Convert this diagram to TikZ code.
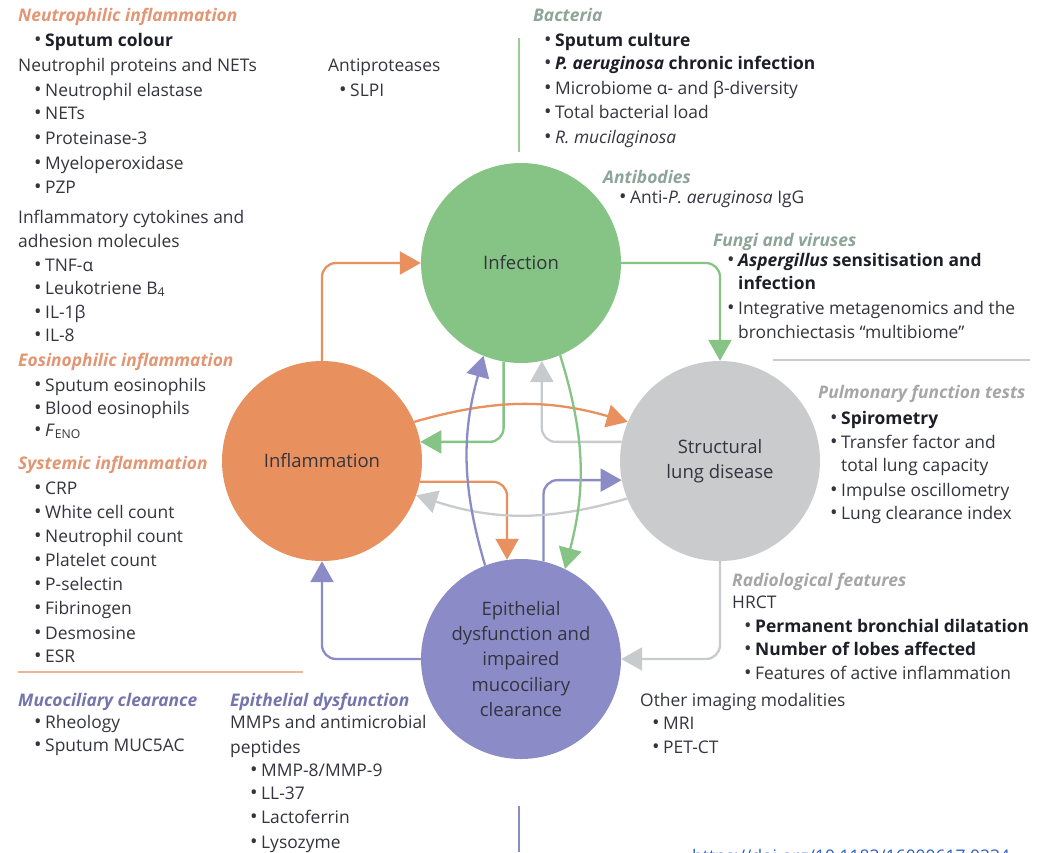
\documentclass[tikz,border=0pt]{standalone}
\usepackage{fontspec}
\setmainfont{Open Sans}
\usepackage{graphicx}
\usetikzlibrary{arrows.meta}
\definecolor{cOr}{RGB}{232,145,94}
\definecolor{cGr}{RGB}{133,196,133}
\definecolor{cGy}{RGB}{201,203,205}
\definecolor{cGyA}{RGB}{200,203,206}
\definecolor{cPu}{RGB}{139,140,199}
\definecolor{cTx}{RGB}{52,52,62}
\definecolor{cTb}{RGB}{30,30,40}
\definecolor{cHO}{RGB}{226,150,115}
\definecolor{cHG}{RGB}{140,165,150}
\definecolor{cHY}{RGB}{166,166,166}
\definecolor{cHP}{RGB}{117,117,174}
\definecolor{cLO}{RGB}{237,181,154}
\definecolor{cLG}{RGB}{156,203,156}
\definecolor{cURL}{RGB}{45,95,200}
\newcommand\bu{\makebox[11pt][l]{\raisebox{-0.5pt}{\fontsize{20}{20}\selectfont •}}}
\newcommand\hdO{\color{cHO}\bfseries\itshape}
\newcommand\hdG{\color{cHG}\bfseries\itshape}
\newcommand\hdY{\color{cHY}\bfseries\itshape}
\newcommand\hdP{\color{cHP}\bfseries\itshape}
\newcommand\bd[1]{{\color{cTb}\bfseries #1}}
\newcommand\mylines[2]{\foreach \yy/\xx/\tx in {#2} {\node[txt] (#1\yy) at (\xx,-\yy) {\tx};}}
\tikzset{
  txt/.style={inner sep=0pt, anchor=base west, text=cTx, font=\fontsize{17.4}{20}\selectfont},
  circ/.style={circle, minimum size=200pt, inner sep=0pt, align=center, text=cTx,
    font=\fontsize{18.5}{24.5}\selectfont},
  arr/.style={line width=2.3pt, -{Triangle[length=21pt,width=23pt]}, rounded corners=14pt},
  arrc/.style={line width=2.3pt, -{Triangle[length=21pt,width=23pt]}},
  sep/.style={line width=2pt}
}
\begin{document}
\begin{tikzpicture}[x=1pt,y=1pt]
\useasboundingbox (0,0) rectangle (1038,-852);
\fill[white] (0,0) rectangle (1038,-852);

% separators
\draw[sep, cLG] (519,-38) -- (519,-152);
\draw[sep, cGy] (773,-360) -- (1030,-360);
\draw[sep, cLO] (18,-672) -- (303,-672);
\draw[sep, cPu] (519,-806) -- (519,-852);

% circles
\node[circ, fill=cGr] (infc) at (521,-263) {Infection};
\node[circ, fill=cOr] (infl) at (322,-461) {Inflammation};
\node[circ, fill=cGy] (strc) at (720,-461) {Structural\\lung disease};
\node[circ, fill=cPu, font=\fontsize{18.5}{25.3}\selectfont] (epi) at (521,-659) {Epithelial\\dysfunction and\\impaired\\mucociliary\\clearance};

% outer arrows
\draw[arr, cOr] (infl.north) |- (infc.west);
\draw[arr, cGr] (infc.east) -| (strc.north);
\draw[arr, cGyA] (strc.south) |- (epi.east);
\draw[arr, cPu] (epi.west) -| (infl.south);

% inner arrows
\draw[arr, cGr] (infc.260) |- (infl.11);
\draw[arr, cGyA] (strc.169) -| (infc.282);
\draw[arr, cOr] (infl.348) -| (epi.98);
\draw[arr, cPu] (epi.77) |- (strc.191);
\draw[arrc, cOr] (infl.23) to[bend left=16] (strc.157);
\draw[arrc, cGyA] (strc.202) to[bend left=17] (infl.340);
\draw[arrc, cPu] (epi.111) to[bend left=16] (infc.248);
\draw[arrc, cGr] (infc.293) to[bend left=16] (epi.64);

% left column
\mylines{L}{21/18/{\hdO Neutrophilic inflammation},
 46/34/{\bu\bd{Sputum colour}},
 71/18/{Neutrophil proteins and NETs},
 96/34/{\bu Neutrophil elastase},
 119/34/{\bu NETs},
 144/34/{\bu Proteinase-3},
 169/34/{\bu Myeloperoxidase},
 193/34/{\bu PZP},
 223/18/{Inflammatory cytokines and},
 247/18/{adhesion molecules},
 271/34/{\bu TNF-α},
 294/34/{\bu Leukotriene B\textsubscript{4}},
 318/34/{\bu IL-1β},
 341/34/{\bu IL-8},
 366/18/{\hdO Eosinophilic inflammation},
 391/34/{\bu Sputum eosinophils},
 414/34/{\bu Blood eosinophils},
 436/34/{\bu \textit{F}\textsubscript{ENO}},
 469/18/{\hdO Systemic inflammation},
 494/34/{\bu CRP},
 518/34/{\bu White cell count},
 542/34/{\bu Neutrophil count},
 566/34/{\bu Platelet count},
 590/34/{\bu P-selectin},
 614/34/{\bu Fibrinogen},
 639/34/{\bu Desmosine},
 662/34/{\bu ESR}}

\mylines{A}{71/328/{Antiproteases}, 96/339/{\bu SLPI}}

% bacteria
\mylines{B}{21/533/{\hdG Bacteria},
 46/544/{\bu\bd{Sputum culture}},
 69/544/{\bu\bd{\textit{P. aeruginosa} chronic infection}},
 94/544/{\bu Microbiome α- and β-diversity},
 118/544/{\bu Total bacterial load},
 143/544/{\bu\textit{R. mucilaginosa}},
 183/603/{\hdG Antibodies},
 203/619/{\bu Anti-\textit{P. aeruginosa} IgG}}

% fungi
\mylines{F}{246/713/{\hdG Fungi and viruses},
 266/727/{\bu\bd{\textit{Aspergillus} sensitisation and}},
 289/738/{\bd{infection}},
 314/727/{\bu Integrative metagenomics and the},
 338/738/{bronchiectasis “multibiome”}}

% pulmonary
\mylines{P}{398/818/{\hdY Pulmonary function tests},
 424/830/{\bu\bd{Spirometry}},
 448/830/{\bu Transfer factor and},
 471/841/{total lung capacity},
 496/830/{\bu Impulse oscillometry},
 519/830/{\bu Lung clearance index}}

% radiological
\mylines{R}{586/732/{\hdY Radiological features},
 608/732/{HRCT},
 632/744/{\bu\bd{Permanent bronchial dilatation}},
 655/744/{\bu\bd{Number of lobes affected}},
 679/744/{\bu Features of active inflammation},
 706/640/{Other imaging modalities},
 729/652/{\bu MRI},
 753/652/{\bu PET-CT}}

% bottom left
\mylines{M}{706/18/{\hdP Mucociliary clearance},
 728/34/{\bu Rheology},
 751/34/{\bu Sputum MUC5AC}}
\mylines{E}{706/230/{\hdP Epithelial dysfunction},
 728/230/{MMPs and antimicrobial},
 753/230/{peptides},
 776/250/{\bu MMP-8/MMP-9},
 799/250/{\bu LL-37},
 823/250/{\bu Lactoferrin},
 848/250/{\bu Lysozyme}}

\node[txt, text=cURL] (url) at (692,-862) {https://doi.org/10.1183/16000617.0234};
\end{tikzpicture}
\end{document}
